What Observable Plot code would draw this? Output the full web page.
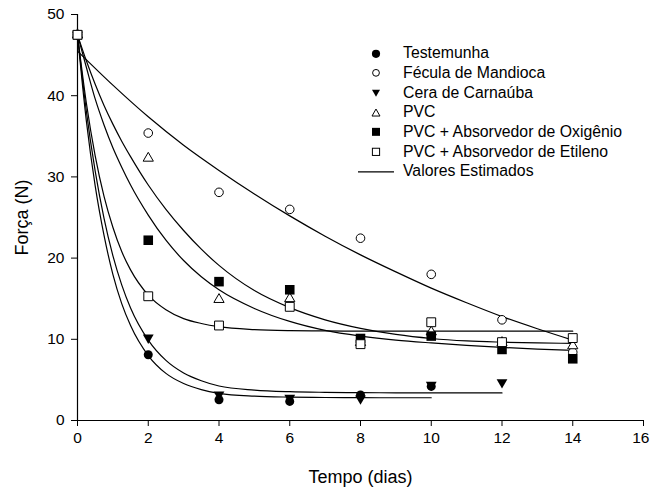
<!DOCTYPE html>
<html>
<head>
<meta charset="utf-8">
<script src="https://cdn.jsdelivr.net/npm/d3@7"></script>
<script src="https://cdn.jsdelivr.net/npm/@observablehq/plot@0.6"></script>
<style>
  html, body { margin: 0; padding: 0; background: #fff; }
  #wrap { position: relative; width: 650px; height: 489px; font-family: "Liberation Sans", Arial, sans-serif; }
  #legend { position: absolute; left: 358px; top: 43.5px; }
  .row { display: flex; align-items: center; height: 19.7px; font-size: 15.8px; color: #000; white-space: nowrap; }
  .row svg { width: 36px; height: 19.7px; margin-right: 9px; flex: none; overflow: visible; }
  g[aria-label="x-axis label"] text, g[aria-label="y-axis label"] text { font-size: 18px; }
</style>
</head>
<body>
<div id="wrap"></div>
<script>
// ---- data ----
const seriesNames = ["Testemunha", "Fécula de Mandioca", "Cera de Carnaúba", "PVC",
  "PVC + Absorvedor de Oxigênio", "PVC + Absorvedor de Etileno"];
const fitLabel = "Valores Estimados";
const xLabel = "Tempo (dias)";
const yLabel = "Força (N)";
const xTicks = [0, 2, 4, 6, 8, 10, 12, 14, 16];
const yTicks = [0, 10, 20, 30, 40, 50];

// observed values (days 0,2,4,...)
const days = [0, 2, 4, 6, 8, 10, 12, 14];
const testemunha = [47.5, 8.1, 2.55, 2.35, 3.15, 4.2];
const fecula = [47.5, 35.4, 28.1, 26.0, 22.45, 18.0, 12.4, 8.4];
const cera = [47.5, 10.2, 3.2, 2.8, 2.7, 4.4, 4.7];
const pvc = [47.5, 32.3, 14.9, 15.0, 9.6, 10.9, 9.6, 9.2];
const pvcOxigenio = [47.5, 22.2, 17.1, 16.1, 10.1, 10.4, 8.75, 7.6];
const pvcEtileno = [47.5, 15.3, 11.7, 14.0, 9.4, 12.1, 9.65, 10.15];

// estimated (fitted) curves
const fitX = [0, 0.25, 0.5, 0.75, 1, 1.25, 1.5, 2, 2.5, 3, 3.5, 4, 5, 6, 7, 8, 9, 10, 11, 12, 13, 14];
const fitTestemunha = [47.5, 36.9, 28.9, 22.8, 18.0, 14.4, 11.7, 8.0, 5.8, 4.55, 3.8, 3.35, 3.0, 2.88, 2.83, 2.81, 2.8, 2.8];
const fitCera = [47.5, 38.1, 30.7, 24.9, 20.3, 16.7, 13.85, 9.9, 7.4, 5.85, 4.9, 4.25, 3.75, 3.55, 3.47, 3.43, 3.41, 3.4, 3.4, 3.4];
const fitPvc = [47.5, 44.3, 41.4, 38.8, 36.5, 34.4, 32.5, 29.0, 26.0, 23.4, 21.1, 19.1, 16.0, 13.9, 12.4, 11.35, 10.6, 10.1, 9.8, 9.65, 9.55, 9.5];
const fitOxigenio = [47.5, 43.5, 39.6, 36.4, 33.6, 31.2, 29.0, 25.3, 22.2, 19.7, 17.7, 16.1, 13.8, 12.2, 11.1, 10.4, 9.9, 9.55, 9.25, 9.0, 8.8, 8.65];
const fitEtileno = [47.5, 39.1, 32.6, 27.6, 23.8, 20.8, 18.55, 15.45, 13.65, 12.55, 11.95, 11.55, 11.2, 11.07, 11.03, 11.01, 11.0, 11.0, 11.0, 11.0, 11.0, 11.0];
const fitXDays = [0, 1, 2, 3, 4, 5, 6, 7, 8, 9, 10, 11, 12, 13, 14];
const fitFecula = [45.5, 41.3, 37.4, 33.9, 30.8, 27.9, 25.2, 22.7, 20.4, 18.3, 16.3, 14.5, 12.8, 11.3, 9.9];

// ---- styling ----
const observed = [testemunha, fecula, cera, pvc, pvcOxigenio, pvcEtileno];
const fits = [
  [fitX, fitTestemunha], [fitXDays, fitFecula], [fitX, fitCera],
  [fitX, fitPvc], [fitX, fitOxigenio], [fitX, fitEtileno]
];
const styles = [
  {symbol: "circle", fill: "black", stroke: "none", r: 4.5, rotate: 0},
  {symbol: "circle", fill: "white", stroke: "black", r: 4.3, rotate: 0},
  {symbol: "triangle", fill: "black", stroke: "none", r: 4.0, rotate: 180},
  {symbol: "triangle", fill: "white", stroke: "black", r: 3.8, rotate: 0},
  {symbol: "square", fill: "black", stroke: "none", r: 5.4, rotate: 0},
  {symbol: "square", fill: "white", stroke: "black", r: 5.0, rotate: 0}
];

const toRows = (xs, ys) => ys.map((y, i) => ({x: xs[i], y}));

const lineMarks = fits.map(([xs, ys]) =>
  Plot.line(toRows(xs, ys), {x: "x", y: "y", stroke: "black", strokeWidth: 1.2, curve: "monotone-x"}));
const dotMarks = observed.map((ys, i) =>
  Plot.dot(toRows(days, ys), {x: "x", y: "y", ...styles[i], strokeWidth: 1}));

const lastX = xTicks[xTicks.length - 1];

const chart = Plot.plot({
  width: 650,
  height: 489,
  marginLeft: 77,
  marginRight: 7,
  marginTop: 14,
  marginBottom: 69,
  style: {fontFamily: "'Liberation Sans', Arial, sans-serif", fontSize: "15.5px", color: "black", background: "white", overflow: "visible"},
  x: {domain: [xTicks[0], lastX]},
  y: {domain: [yTicks[0], yTicks[yTicks.length - 1]]},
  marks: [
    Plot.axisX({ticks: xTicks, tickSize: 6, tickPadding: 5, tickFormat: d => (d === lastX ? "" : String(d)),
      label: xLabel, labelAnchor: "center", labelOffset: 62, labelArrow: "none"}),
    Plot.text([lastX], {x: d => d, frameAnchor: "bottom", lineAnchor: "top", dy: 11, dx: 6,
      textAnchor: "end", text: d => String(d), fontSize: 15.5}),
    Plot.axisY({ticks: yTicks, tickSize: 6, tickPadding: 7, tickFormat: d => String(d),
      label: yLabel, labelAnchor: "center", labelOffset: 62, labelArrow: "none"}),
    Plot.ruleY([yTicks[0]], {stroke: "black", strokeWidth: 1.2}),
    Plot.ruleX([xTicks[0]], {stroke: "black", strokeWidth: 1.2}),
    ...lineMarks,
    ...dotMarks
  ]
});

const wrap = document.getElementById("wrap");
wrap.appendChild(chart);

// ---- legend (HTML overlay) ----
const legend = document.createElement("div");
legend.id = "legend";
const ns = "http://www.w3.org/2000/svg";
function glyph(i) {
  const s = styles[i];
  const cx = 18, cy = 9.85;
  if (s.symbol === "circle") {
    const r = s.fill === "black" ? 4.1 : 3.4;
    return `<circle cx="${cx}" cy="${cy}" r="${r}" fill="${s.fill}" stroke="${s.stroke === "none" ? "none" : "black"}" stroke-width="1"/>`;
  }
  if (s.symbol === "square") {
    const h = s.fill === "black" ? 4 : 3.6;
    return `<rect x="${cx - h}" y="${cy - h}" width="${2 * h}" height="${2 * h}" fill="${s.fill}" stroke="${s.stroke === "none" ? "none" : "black"}" stroke-width="1"/>`;
  }
  const h = 4;
  const pts = s.rotate === 180
    ? `${cx - h},${cy - 3.2} ${cx + h},${cy - 3.2} ${cx},${cy + 3.8}`
    : `${cx - h},${cy + 3.2} ${cx + h},${cy + 3.2} ${cx},${cy - 3.8}`;
  return `<polygon points="${pts}" fill="${s.fill}" stroke="${s.stroke === "none" ? "none" : "black"}" stroke-width="1"/>`;
}
seriesNames.forEach((name, i) => {
  const row = document.createElement("div");
  row.className = "row";
  row.innerHTML = `<svg xmlns="${ns}" viewBox="0 0 36 19.7">${glyph(i)}</svg><span>${name}</span>`;
  legend.appendChild(row);
});
const fitRow = document.createElement("div");
fitRow.className = "row";
fitRow.innerHTML = `<svg xmlns="${ns}" viewBox="0 0 36 19.7"><line x1="0" x2="36" y1="9.85" y2="9.85" stroke="black" stroke-width="1.2"/></svg><span>${fitLabel}</span>`;
legend.appendChild(fitRow);
wrap.appendChild(legend);
</script>
</body>
</html>
